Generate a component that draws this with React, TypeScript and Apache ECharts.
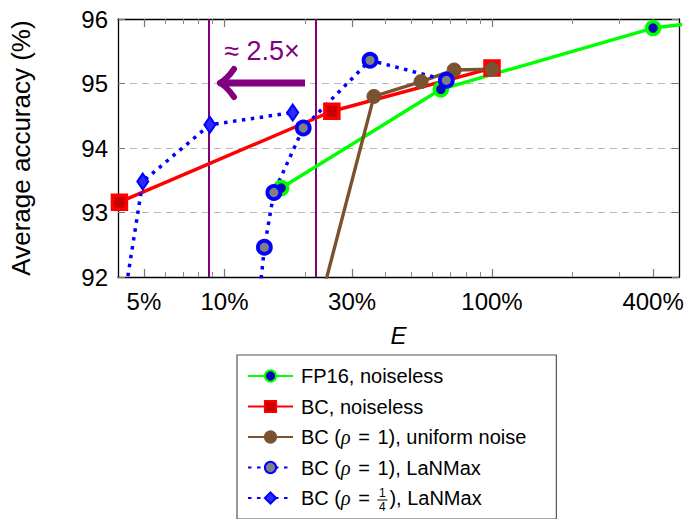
import React, { useEffect, useRef } from "react";
import * as echarts from "echarts";

// ---- data (E in %, accuracy in %) ----
const fp16E = [16.3, 64.4, 400, 1000];
const fp16Acc = [93.38, 94.91, 95.86, 96.06];
const bcE = [4.05, 25.2, 100];
const bcAcc = [93.16, 94.57, 95.24];
const uniE = [20, 36.2, 54.3, 72.2, 100];
const uniAcc = [90.7, 94.8, 95.03, 95.21, 95.22];
const lanE = [13.5, 14.1, 15.3, 19.7, 35.0, 67.5];
const lanAcc = [91.7, 92.46, 93.31, 94.31, 95.36, 95.05];
const lanQE = [4.2, 4.95, 8.82, 18.0];
const lanQAcc = [91.6, 93.48, 94.36, 94.55];
const budgetLines = [8.8, 22];
const xMin = 4;
const xMax = 500;
const xMajor = [5, 10, 30, 100, 400];
const xMinor = [6, 7, 8, 9, 20, 40, 50, 60, 70, 80, 90, 200, 300];
const yMin = 92;
const yMax = 96;
const seriesNames = [
  "FP16, noiseless",
  "BC, noiseless",
  "BC (ρ = 1), uniform noise",
  "BC (ρ = 1), LaNMax",
  "BC (ρ = 1/4), LaNMax",
];

const L = (v: number) => Math.log10(v);
const pairs = (es: number[], as: number[]) => es.map((e, i) => [L(e), as[i]]);

const FONT = "Liberation Sans";
const PURPLE = "#800080";
const BROWN = "#7b5230";

export default function App() {
  const ref = useRef<HTMLDivElement>(null);
  useEffect(() => {
    if (!ref.current) return;
    const chart = echarts.init(ref.current, undefined, { renderer: "svg" });

    // measure prefix of the 5th legend label to place the stacked fraction
    const ctx = document.createElement("canvas").getContext("2d")!;
    const mw = (font: string, t: string) => {
      ctx.font = font;
      return ctx.measureText(t).width;
    };
    const legFont = 20;
    const eqPad = 2;
    const spacerW = 12;
    const prefixW =
      mw(`${legFont}px "${FONT}"`, "BC (") +
      mw(`italic ${legFont}px "Liberation Serif"`, "ρ") +
      mw(`${legFont}px "${FONT}"`, " ") +
      mw(`${legFont}px "${FONT}"`, "=") +
      2 * eqPad +
      mw(`${legFont}px "${FONT}"`, " ");
    const legLeft = 237;
    const legPadL = 10;
    const legIconW = 45;
    const textX = legLeft + legPadL + legIconW + 5 + 3;
    const fracX = textX + prefixW + spacerW / 2;
    const row5 = 497;

    const majorAxisBase = {
      type: "value" as const,
      min: L(xMin),
      max: L(xMax),
      splitLine: { show: false },
    };

    const option: any = {
      animation: false,
      textStyle: { fontFamily: FONT },
      grid: { left: 117, top: 19, width: 562, height: 258, containLabel: false },
      xAxis: [
        {
          ...majorAxisBase,
          position: "bottom",
          name: "E",
          nameLocation: "middle",
          nameGap: 46,
          nameTextStyle: { fontSize: 24, fontStyle: "italic", color: "#000", fontFamily: FONT },
          axisLine: { show: true, lineStyle: { color: "#000", width: 1.3 } },
          axisTick: {
            show: true,
            inside: true,
            length: 8,
            customValues: xMajor.map(L),
            lineStyle: { color: "#777", width: 1.2 },
          },
          axisLabel: {
            show: true,
            customValues: xMajor.map(L),
            formatter: (v: number) => `${Math.round(Math.pow(10, v))}%`,
            fontSize: 24,
            color: "#000",
            margin: 12,
            fontFamily: FONT,
          },
        },
        {
          ...majorAxisBase,
          position: "bottom",
          axisLine: { show: false },
          axisTick: {
            show: true,
            inside: true,
            length: 5,
            customValues: xMinor.map(L),
            lineStyle: { color: "#888", width: 1 },
          },
          axisLabel: { show: false },
        },
        {
          ...majorAxisBase,
          position: "top",
          axisLine: { show: true, lineStyle: { color: "#000", width: 1.3 } },
          axisTick: {
            show: true,
            inside: true,
            length: 8,
            customValues: xMajor.map(L),
            lineStyle: { color: "#777", width: 1.2 },
          },
          axisLabel: { show: false },
        },
        {
          ...majorAxisBase,
          position: "top",
          axisLine: { show: false },
          axisTick: {
            show: true,
            inside: true,
            length: 5,
            customValues: xMinor.map(L),
            lineStyle: { color: "#888", width: 1 },
          },
          axisLabel: { show: false },
        },
      ],
      yAxis: [
        {
          type: "value",
          position: "left",
          min: yMin,
          max: yMax,
          interval: 1,
          name: "Average accuracy (%)",
          nameLocation: "middle",
          nameGap: 84,
          nameTextStyle: { fontSize: 26, color: "#000", fontFamily: FONT },
          axisLine: { show: true, lineStyle: { color: "#000", width: 1.3 } },
          axisTick: { show: true, inside: true, length: 7, lineStyle: { color: "#777" } },
          axisLabel: { fontSize: 24, color: "#000", margin: 10, fontFamily: FONT },
          splitLine: {
            show: true,
            lineStyle: { color: "#b8b8b8", width: 1.2, type: [7, 5] },
          },
        },
        {
          type: "value",
          position: "right",
          min: yMin,
          max: yMax,
          interval: 1,
          axisLine: { show: true, lineStyle: { color: "#000", width: 1.3 } },
          axisTick: { show: true, inside: true, length: 7, lineStyle: { color: "#777" } },
          axisLabel: { show: false },
          splitLine: { show: false },
        },
      ],
      legend: {
        orient: "vertical",
        left: legLeft,
        top: 355,
        padding: [10, 30, 10, legPadL],
        itemWidth: legIconW,
        itemHeight: 14,
        itemGap: 8.5,
        borderColor: "#555",
        borderWidth: 1.2,
        backgroundColor: "#fff",
        data: seriesNames,
        formatter: (name: string) =>
          name
            .replace("ρ", "{i|ρ}")
            .replace(" = ", " {eq|=} ")
            .replace("1/4", "{sp| }"),
        textStyle: {
          fontSize: legFont,
          color: "#000",
          fontFamily: FONT,
          lineHeight: 22,
          padding: [0, 0, 0, 3],
          rich: {
            i: { fontSize: legFont, fontStyle: "italic", fontFamily: "Liberation Serif", lineHeight: 22 },
            eq: { fontSize: legFont, padding: [0, eqPad], lineHeight: 22, fontFamily: FONT },
            sp: { fontSize: legFont, width: spacerW, lineHeight: 22 },
          },
        },
      },
      graphic: [
        {
          type: "text",
          x: 262,
          y: 51,
          z: 10,
          style: {
            text: "≈ 2.5×",
            fill: PURPLE,
            font: `27px "${FONT}"`,
            align: "center",
            verticalAlign: "middle",
          },
          silent: true,
        },
        {
          type: "line",
          z: 10,
          shape: { x1: 305, y1: 83, x2: 224, y2: 83 },
          style: { stroke: PURPLE, lineWidth: 7 },
          silent: true,
        },
        {
          type: "bezierCurve",
          z: 10,
          shape: { x1: 234, y1: 69, cpx1: 227, cpy1: 79, x2: 220, y2: 83 },
          style: { stroke: PURPLE, lineWidth: 6, lineCap: "round", fill: "none" },
          silent: true,
        },
        {
          type: "bezierCurve",
          z: 10,
          shape: { x1: 234, y1: 97, cpx1: 227, cpy1: 87, x2: 220, y2: 83 },
          style: { stroke: PURPLE, lineWidth: 6, lineCap: "round", fill: "none" },
          silent: true,
        },
        {
          type: "text",
          x: fracX,
          y: row5 - 4,
          style: {
            text: "1",
            fill: "#000",
            font: `12px "${FONT}"`,
            align: "center",
            verticalAlign: "middle",
          },
          silent: true,
          z: 100,
        },
        {
          type: "line",
          shape: { x1: fracX - 5, y1: row5 + 3, x2: fracX + 5, y2: row5 + 3 },
          style: { stroke: "#000", lineWidth: 1 },
          silent: true,
          z: 100,
        },
        {
          type: "text",
          x: fracX,
          y: row5 + 10,
          style: {
            text: "4",
            fill: "#000",
            font: `12px "${FONT}"`,
            align: "center",
            verticalAlign: "middle",
          },
          silent: true,
          z: 100,
        },
      ],
      series: [
        {
          name: seriesNames[0],
          type: "line",
          xAxisIndex: 0,
          yAxisIndex: 0,
          data: pairs(fp16E, fp16Acc),
          symbol: "circle",
          symbolSize: 13,
          lineStyle: { color: "#00ff00", width: 3.4 },
          itemStyle: { color: "#0a0ab4", borderColor: "#00ff00", borderWidth: 3.5 },
          emphasis: { disabled: true },
          markLine: {
            silent: true,
            z: 1,
            symbol: ["none", "none"],
            label: { show: false },
            lineStyle: { color: PURPLE, width: 2, type: "solid" },
            data: budgetLines.map((v) => ({ xAxis: L(v) })),
          },
        },
        {
          name: seriesNames[1],
          type: "line",
          data: pairs(bcE, bcAcc),
          symbol: "rect",
          symbolSize: 14,
          lineStyle: { color: "#ff0000", width: 3.4 },
          itemStyle: { color: "#c80000", borderColor: "#ff0000", borderWidth: 3.5 },
          emphasis: { disabled: true },
        },
        {
          name: seriesNames[2],
          type: "line",
          data: pairs(uniE, uniAcc),
          symbol: "circle",
          symbolSize: 14,
          lineStyle: { color: BROWN, width: 3.4 },
          itemStyle: { color: BROWN, borderColor: BROWN, borderWidth: 1 },
          emphasis: { disabled: true },
        },
        {
          name: seriesNames[3],
          type: "line",
          data: pairs(lanE, lanAcc),
          symbol: "circle",
          symbolSize: 13,
          lineStyle: { color: "#0000ff", width: 3.5, type: [3.5, 5.5] },
          itemStyle: { color: "#808080", borderColor: "#0000ff", borderWidth: 3.8 },
          emphasis: { disabled: true },
        },
        {
          name: seriesNames[4],
          type: "line",
          data: pairs(lanQE, lanQAcc),
          symbol: "diamond",
          symbolSize: [11, 16],
          lineStyle: { color: "#0000ff", width: 3.5, type: [3.5, 5.5] },
          itemStyle: { color: "#2a2aff", borderColor: "#0000ff", borderWidth: 2 },
          emphasis: { disabled: true },
        },
      ],
    };
    chart.setOption(option);
    return () => chart.dispose();
  }, []);
  return <div ref={ref} style={{ width: 689, height: 519, position: "absolute", left: 0, top: 0 }} />;
}
